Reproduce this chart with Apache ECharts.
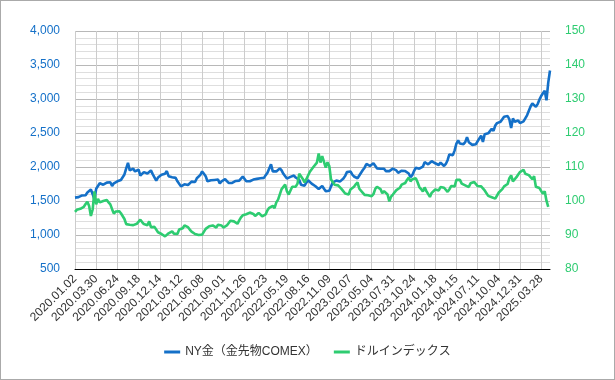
<!DOCTYPE html>
<html><head><meta charset="utf-8">
<script src="https://cdn.jsdelivr.net/npm/echarts@6/dist/echarts.min.js"></script>
<style>html,body{margin:0;padding:0;background:#fff}#wrap{position:relative;width:615px;height:380px}#c{width:615px;height:380px}#b{position:absolute;left:0;top:0;width:615px;height:380px;box-sizing:border-box;border:1px solid #aaa;pointer-events:none}</style>
</head><body><div id="wrap"><div id="c"></div><div id="b"></div></div>
<script>
// Tick labels (every 12th weekly point)
const tickLabels = ["2020.01.02","2020.03.30","2020.06.24","2020.09.18","2020.12.14","2021.03.12","2021.06.08","2021.09.01","2021.11.26","2022.02.23","2022.05.19","2022.08.16","2022.11.09","2023.02.07","2023.05.04","2023.07.31","2023.10.24","2024.01.18","2024.04.15","2024.07.11","2024.10.04","2024.12.31","2025.03.28"];

// NY gold (COMEX), weekly-ish readings
const gold = [
1550,1562,1557,1568,1582,1572,1585,1625,1645,1668,1600,1520,1680,1720,1760,1755,1740,1750,1770,1760,1775,1720,1760,1785,1790,1800,1810,1815,1890,1980,2060,1950,1955,1975,1935,1950,1960,1875,1900,1925,1910,1905,1890,1950,1895,1870,1800,1845,1840,1885,1880,
1900,1940,1865,1875,1850,1840,1840,1790,1785,1715,1725,1745,1735,1735,1750,1785,1785,1780,1835,1850,1885,1935,1900,1865,1790,1780,1805,1825,1810,1815,1815,1760,1790,1795,1820,1800,1765,1755,1765,1770,1795,1790,1800,1795,1860,1865,1790,1785,1790,1810,1815,
1820,1825,1845,1835,1810,1840,1880,1915,1940,2040,1935,1945,1935,1930,1980,1950,1900,1885,1830,1840,1855,1855,1875,1845,1830,1810,1740,1715,1725,1770,1805,1780,1755,1730,1720,1710,1675,1665,1720,1680,1645,1665,1650,1715,1775,1750,1800,1795,1785,1800,1830,
1870,1925,1930,1935,1890,1860,1845,1835,1825,1915,1955,1990,2045,2030,2015,2010,2055,2040,1980,1955,1975,1985,1975,1940,1925,1940,1965,1975,1980,1950,1915,1925,1945,1955,1940,1955,1905,1850,1880,1940,1990,2005,1975,1970,2005,2070,2060,2040,2055,2085,
2060,2055,2030,2030,2065,2040,2015,2045,2100,2185,2165,2175,2245,2345,2390,2345,2355,2335,2365,2440,2365,2375,2325,2345,2335,2345,2420,2460,2370,2480,2470,2495,2520,2560,2530,2610,2645,2670,2665,2675,2740,2760,2750,2700,2575,2715,2665,2660,2685,2645,2645,
2670,2715,2760,2785,2890,2935,2960,2885,2925,2990,3045,3085,3120,2980,3240,3420
];

// US dollar index, weekly-ish readings
const dollar = [
96.8,97.4,97.3,97.7,97.9,98.3,99.1,99.8,98.5,95.6,97.5,102.8,99.0,100.6,99.6,100.1,100.0,99.8,100.3,99.6,99.0,97.6,96.3,96.9,97.2,97.0,96.4,96.0,94.7,93.2,92.9,93.0,92.9,92.9,92.8,93.3,93.0,94.5,93.8,93.2,93.7,92.9,94.0,92.3,92.7,92.4,91.9,90.8,90.7,90.3,90.0,
89.6,90.1,90.5,90.6,91.1,90.4,90.6,90.3,91.6,91.8,92.0,92.8,93.0,92.3,91.6,91.0,91.2,90.3,90.3,90.0,90.0,90.1,90.5,91.8,92.1,92.6,92.4,92.8,92.3,92.2,93.0,93.3,92.8,92.2,92.5,92.8,93.1,94.2,94.2,94.0,93.6,93.3,94.3,95.2,95.8,96.1,96.1,96.2,96.6,96.1,96.2,
95.6,95.6,96.5,96.0,95.5,95.8,96.1,97.3,98.0,98.5,98.6,97.9,99.6,100.4,100.6,103.5,103.6,104.8,102.9,101.9,102.2,104.2,104.6,104.2,105.1,108.0,107.6,106.5,105.5,106.4,106.6,108.6,108.8,110.0,109.7,111.3,114.0,111.3,113.2,112.9,109.8,111.4,110.3,106.3,106.1,104.8,104.8,104.6,104.2,103.5,
104.0,102.2,102.0,101.9,103.4,103.3,104.2,104.9,105.5,103.6,103.2,102.4,101.8,102.2,101.7,101.9,101.4,102.0,103.5,104.2,104.0,103.5,102.3,102.9,102.9,101.9,99.9,101.3,101.9,102.1,103.2,103.4,103.9,104.8,104.6,105.3,106.2,106.9,105.8,106.4,106.3,106.7,105.5,104.1,103.5,102.8,104.0,102.9,102.4,101.2,
102.4,102.4,103.4,103.6,103.1,104.1,104.3,103.9,103.8,102.7,103.4,104.4,104.5,104.3,106.2,106.1,106.2,105.1,105.2,104.6,104.6,104.1,105.2,105.3,105.6,105.7,104.4,104.2,104.3,104.4,103.1,102.9,101.5,101.3,101.1,101.1,100.7,100.4,102.5,102.9,103.5,104.3,104.3,105.0,106.7,107.5,105.8,106.0,107.0,107.8,108.5,
109.0,109.2,108.0,108.0,107.6,107.9,106.4,107.3,104.2,103.8,103.8,104.0,102.1,102.9,100.1,98.3
];

const categories = gold.map((_, i) => i);
const BLUE = '#1470c8', GREEN = '#2ecc71';

const chart = echarts.init(document.getElementById('c'), null, {renderer: 'canvas'});
chart.setOption({
  animation: false,
  textStyle: {fontFamily: 'Liberation Sans, Arial, sans-serif'},
  grid: {left: 75, right: 65, top: 31, bottom: 111, containLabel: false},
  legend: {
    bottom: 17, left: 'center', itemWidth: 16, itemHeight: 3, itemGap: 16,
    icon: 'rect',
    textStyle: {color: '#333', fontSize: 12, fontFamily: 'Liberation Sans, "Noto Sans CJK JP", sans-serif'},
    data: ['NY金（金先物COMEX）', 'ドルインデックス']
  },
  xAxis: {
    type: 'category', data: categories, boundaryGap: false,
    axisLine: {show: true, lineStyle: {color: '#000', width: 1}},
    axisTick: {show: false, interval: 11},
    axisLabel: {
      interval: 11, rotate: 45, color: '#333', fontSize: 12, margin: 8,
      formatter: (v) => tickLabels[Math.round(v / 12)] || ''
    },
    splitLine: {show: true, interval: 11, lineStyle: {color: '#cccccc', width: 1}}
  },
  yAxis: [{
    type: 'value', min: 500, max: 4000, interval: 500, position: 'left',
    axisLine: {show: false}, axisTick: {show: false},
    axisLabel: {color: BLUE, fontSize: 12, margin: 15, formatter: (v) => v.toLocaleString('en-US')},
    splitLine: {show: true, lineStyle: {color: '#b8b8b8', width: 1}},
    minorTick: {show: true, splitNumber: 5, length: 0, lineStyle: {color: 'rgba(0,0,0,0)'}},
    minorSplitLine: {show: true, lineStyle: {color: '#dedede', width: 1}}
  }, {
    type: 'value', min: 80, max: 150, interval: 10, position: 'right',
    axisLine: {show: false}, axisTick: {show: false},
    axisLabel: {color: GREEN, fontSize: 12, margin: 15},
    splitLine: {show: false}
  }],
  series: [{
    name: 'NY金（金先物COMEX）', type: 'line', data: gold, yAxisIndex: 0,
    showSymbol: false, symbol: 'none', lineStyle: {color: BLUE, width: 2.6}, itemStyle: {color: BLUE}
  }, {
    name: 'ドルインデックス', type: 'line', data: dollar, yAxisIndex: 1,
    showSymbol: false, symbol: 'none', lineStyle: {color: GREEN, width: 2.6}, itemStyle: {color: GREEN}
  }]
});
</script></body></html>
